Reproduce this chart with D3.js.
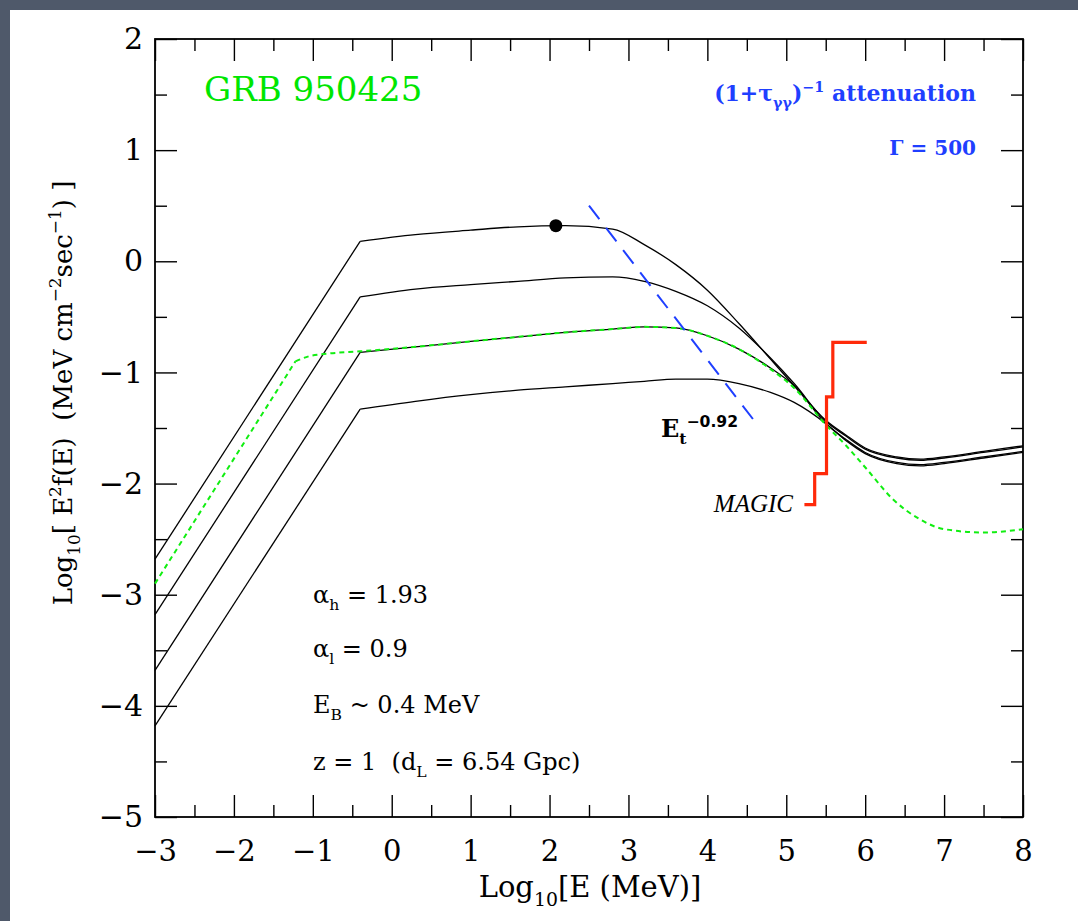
<!DOCTYPE html>
<html>
<head>
<meta charset="utf-8">
<script src="https://cdn.jsdelivr.net/npm/d3@7"></script>
<style>
  body { margin:0; background:#4f596a; }
  text { white-space: pre; }
</style>
</head>
<body>
<div id="chart"></div>
<script>
// values: x = log10 E (MeV), y = log10 E^2 f(E)
const xTicks = [-3,-2,-1,0,1,2,3,4,5,6,7,8]
const yTicks = [2,1,0,-1,-2,-3,-4,-5]

// low energy straight part, up to the break E_B ~ 0.4 MeV
const riseX = [-3, -0.4]
const rise1 = [-2.68, 0.18]
const rise2 = [-3.18, -0.32]
const rise3 = [-3.68, -0.82]
const rise4 = [-4.18, -1.33]

// smooth part above the break
const smoothX = [-0.4, 0.3, 1.0, 1.6, 2.2, 2.8, 3.2, 3.6, 4.0, 4.4, 4.8, 5.1, 5.5, 5.75, 6.0, 6.4, 6.7, 7.0, 7.5, 8.0]
const curve1 = [0.18, 0.24, 0.28, 0.31, 0.32, 0.29, 0.15, -0.03, -0.26, -0.56, -0.88, -1.12, -1.43, -1.56, -1.68, -1.76, -1.78, -1.76, -1.71, -1.66]
const curve2 = [-0.32, -0.25, -0.21, -0.18, -0.15, -0.14, -0.18, -0.27, -0.40, -0.60, -0.87, -1.10, -1.44, -1.57, -1.69, -1.77, -1.79, -1.77, -1.72, -1.67]
const curve3 = [-0.82, -0.77, -0.72, -0.68, -0.64, -0.61, -0.59, -0.60, -0.67, -0.79, -0.96, -1.12, -1.46, -1.60, -1.72, -1.81, -1.83, -1.81, -1.76, -1.71]
const curve4 = [-1.33, -1.26, -1.20, -1.16, -1.13, -1.10, -1.08, -1.06, -1.06, -1.10, -1.18, -1.27, -1.46, -1.61, -1.73, -1.82, -1.84, -1.82, -1.77, -1.72]

// green dotted curve
const greenRiseX = [-3, -1.22]
const greenRiseY = [-2.9, -0.9]
const greenX = [-1.22, -1.05, -0.8, -0.4, 0.3, 1.0, 1.6, 2.2, 2.8, 3.2, 3.6, 4.0, 4.4, 4.8, 5.1, 5.5, 5.76, 6.02, 6.35, 6.69, 7.0, 7.5, 8.0]
const greenY = [-0.9, -0.855, -0.83, -0.81, -0.77, -0.72, -0.68, -0.64, -0.61, -0.59, -0.60, -0.67, -0.79, -0.97, -1.14, -1.47, -1.66, -1.87, -2.14, -2.32, -2.41, -2.44, -2.41]

// peak marker
const dotX = [2.08]
const dotY = [0.32]

// (1+tau)^-1 attenuation line, E_t^-0.92
const attenX = [2.5, 4.6]
const attenY = [0.5, -1.44]

// MAGIC sensitivity steps
const magicX = [5.23, 5.36, 5.51, 5.59, 6.02]
const magicY = [-2.19, -1.91, -1.22, -0.73, -0.73]

const zip = (xs, ys) => xs.map((d, i) => [d, ys[i]])

let width = 1078, height = 921
let x = d3.scaleLinear().domain([-3, 8]).range([155, 1023])
let y = d3.scaleLinear().domain([-5, 2]).range([817, 39])

let svg = d3.select("#chart").append("svg")
  .attr("width", width).attr("height", height)
  .style("display", "block")

svg.append("rect").attr("x", 10).attr("y", 10)
  .attr("width", width - 10).attr("height", height - 10)
  .attr("fill", "#fff")

let serif = "DejaVu Serif, serif"

// axes: ticks point inward on all four sides
function tickAxis(axis, tr, vals, size, labels) {
  let g = svg.append("g").attr("transform", tr)
    .call(axis.tickValues(vals).tickSize(size).tickFormat(labels ? d3.format("d") : ""))
  g.select(".domain").remove()
  g.selectAll(".tick line").attr("stroke", "#000").attr("stroke-width", 1.4)
  return g
}
let minorX = d3.range(-2.5, 8, 1)
let minorY = d3.range(-4.5, 2, 1)

let xAx = tickAxis(d3.axisBottom(x).tickPadding(23), "translate(0,817)", xTicks, -22, true)
tickAxis(d3.axisBottom(x), "translate(0,817)", minorX, -12, false)
tickAxis(d3.axisTop(x), "translate(0,39)", xTicks, -22, false)
tickAxis(d3.axisTop(x), "translate(0,39)", minorX, -12, false)
let yAx = tickAxis(d3.axisLeft(y).tickPadding(12), "translate(155,0)", yTicks, -22, true)
tickAxis(d3.axisLeft(y), "translate(155,0)", minorY, -12, false)
tickAxis(d3.axisRight(y), "translate(1023,0)", yTicks, -22, false)
tickAxis(d3.axisRight(y), "translate(1023,0)", minorY, -12, false)

xAx.selectAll("text").attr("font-family", serif).attr("font-size", 29).attr("fill", "#000")
yAx.selectAll("text").attr("font-family", serif).attr("font-size", 30).attr("fill", "#000")

svg.append("rect").attr("x", 155).attr("y", 39)
  .attr("width", 868).attr("height", 778)
  .attr("fill", "none").attr("stroke", "#000").attr("stroke-width", 1.8)

let lin = d3.line().x(d => x(d[0])).y(d => y(d[1]))
let smooth = d3.line().x(d => x(d[0])).y(d => y(d[1])).curve(d3.curveMonotoneX)

let plot = svg.append("g")

// black model curves
;[[rise1, curve1], [rise2, curve2], [rise3, curve3], [rise4, curve4]].forEach(c => {
  plot.append("path").attr("d", lin(zip(riseX, c[0])))
    .attr("fill", "none").attr("stroke", "#000").attr("stroke-width", 1.3)
  plot.append("path").attr("d", smooth(zip(smoothX, c[1])))
    .attr("fill", "none").attr("stroke", "#000").attr("stroke-width", 1.3)
})

// green dotted curve
plot.append("path").attr("d", lin(zip(greenRiseX, greenRiseY)))
  .attr("fill", "none").attr("stroke", "#11ee11").attr("stroke-width", 2)
  .attr("stroke-dasharray", "5,4")
plot.append("path").attr("d", smooth(zip(greenX, greenY)))
  .attr("fill", "none").attr("stroke", "#11ee11").attr("stroke-width", 2)
  .attr("stroke-dasharray", "5,4")

// attenuation line
plot.append("path").attr("d", lin(zip(attenX, attenY)))
  .attr("fill", "none").attr("stroke", "#1f3fff").attr("stroke-width", 2)
  .attr("stroke-dasharray", "17,11")

// MAGIC
plot.append("path").attr("d", lin.curve(d3.curveStepAfter)(zip(magicX, magicY)))
  .attr("fill", "none").attr("stroke", "#ff2a0a").attr("stroke-width", 3.2)

plot.selectAll("circle").data(zip(dotX, dotY)).enter().append("circle")
  .attr("cx", d => x(d[0])).attr("cy", d => y(d[1])).attr("r", 6.5).attr("fill", "#000")

// text with sub/superscripts
function rich(t, parts, base) {
  let off = 0
  parts.forEach(p => {
    let target = p[1] === "sub" ? base * 0.3 : p[1] === "sup" ? -base * 0.42 : 0
    let ts = t.append("tspan").attr("dy", target - off)
      .attr("font-size", p[1] ? base * 0.65 : base).text(p[0])
    if (p[2]) ts.attr("font-family", p[2])
    off = target
  })
  return t
}

function label(px, py, parts, size, opts) {
  opts = opts || {}
  let t = svg.append("text").attr("x", px).attr("y", py)
    .attr("font-family", opts.font || serif).attr("fill", opts.color || "#000")
    .attr("text-anchor", opts.anchor || "start")
  if (opts.style) t.attr("font-style", opts.style)
  if (opts.weight) t.attr("font-weight", opts.weight)
  if (opts.rotate) t.attr("transform", `rotate(-90,${px},${py})`)
  return rich(t, parts, size)
}

label(204, 101, [["GRB 950425"]], 34, { color: "#00e600" })
label(976, 101, [["(1+τ"], ["γγ", "sub"], [")"], ["−1", "sup"], [" attenuation"]], 22, { color: "#1f3fff", anchor: "end", weight: "bold" })
label(976, 155, [["Γ = 500"]], 20, { color: "#1f3fff", anchor: "end", weight: "bold" })

label(661, 437, [["E"], ["t", "sub"], ["−0.92", "sup", "DejaVu Sans, sans-serif"]], 24, { weight: "bold" })
label(793, 512, [["MAGIC"]], 25, { font: "Liberation Serif, serif", style: "italic", anchor: "end" })

label(313, 603, [["α"], ["h", "sub"], [" = 1.93"]], 24)
label(313, 657, [["α"], ["l", "sub"], [" = 0.9"]], 24)
label(313, 713, [["E"], ["B", "sub"], [" ~ 0.4 MeV"]], 24)
label(313, 770, [["z = 1  (d"], ["L", "sub"], [" = 6.54 Gpc)"]], 24)

label(590, 897, [["Log"], ["10", "sub"], ["[E (MeV)]"]], 29, { anchor: "middle" })
label(72, 393, [["Log"], ["10", "sub"], ["[ E"], ["2", "sup"], ["f(E)  (MeV cm"], ["−2", "sup"], ["sec"], ["−1", "sup"], [") ]"]], 26, { anchor: "middle", rotate: true })
</script>
</body>
</html>
